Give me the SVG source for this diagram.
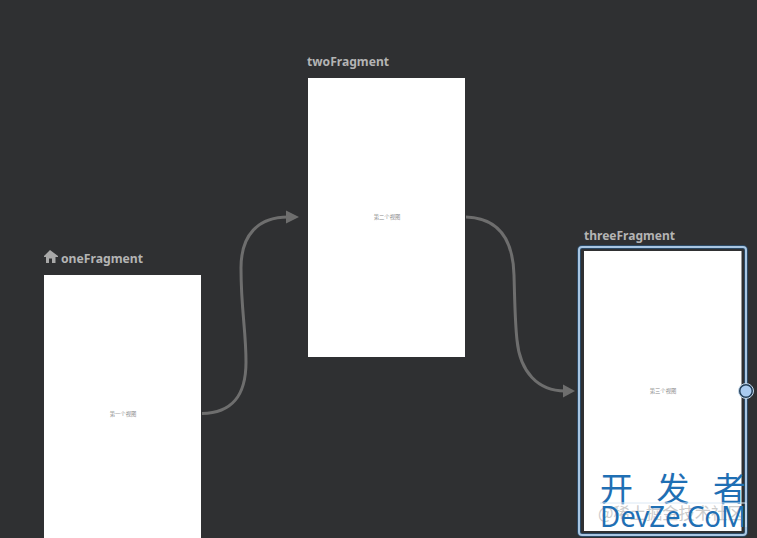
<svg xmlns="http://www.w3.org/2000/svg" width="757" height="538" viewBox="0 0 757 538">
<style>
.title{font-family:"Noto Sans","Open Sans",sans-serif;font-size:12.500px;font-weight:700;fill:#b4b4b4}
.screen{fill:#fff}
.cap{font-family:"Noto Sans CJK SC",sans-serif;font-size:5.300px;fill:#8a8a8a;text-anchor:middle}
.wire{fill:none;stroke:#6e6e6e;stroke-width:3}
.head{fill:#6e6e6e}
.wm{font-family:"Noto Sans CJK SC",sans-serif;fill:#1f6fb4}
</style>
<rect width="757" height="538" fill="#2f3032"/>
<g id="connectors">
<path class="wire" d="M202 413.500C232 413 246 396 246 362C246 330 241 310 241 268C241 235 258 217 288 217"/>
<polygon class="head" points="299,217 286,210.500 286,223.500"/>
<path class="wire" d="M466 217C498 218 513 238 514 275C515 310 515 322 517 340C520 372 538 391 565 391"/>
<polygon class="head" points="575,391 563,384.500 563,397.500"/>
</g>
<g id="oneFragment">
<path d="M50 250L44 256V257H46V263H49V258.500H52V263H55.500V257H58V256Z" fill="#a8a8a8"/>
<text class="title" x="61" y="262.500" textLength="82" lengthAdjust="spacingAndGlyphs">oneFragment</text>
<rect class="screen" x="44" y="275" width="157" height="263"/>
<text class="cap" x="123" y="416">第一个视图</text>
</g>
<g id="twoFragment">
<text class="title" x="307" y="65.500" textLength="82" lengthAdjust="spacingAndGlyphs">twoFragment</text>
<rect class="screen" x="308" y="78" width="157" height="279"/>
<text class="cap" x="387" y="219">第二个视图</text>
</g>
<g id="threeFragment">
<text class="title" x="584" y="240" textLength="91" lengthAdjust="spacingAndGlyphs">threeFragment</text>
<rect x="579" y="247" width="167" height="288" rx="3" fill="none" stroke="#2c4a66" stroke-width="4"/>
<rect x="579" y="247" width="167" height="288" rx="3" fill="none" stroke="#a9c6e2" stroke-width="2"/>
<rect class="screen" x="584" y="251" width="157.500" height="280"/>
<text class="cap" x="663" y="393">第三个视图</text>
<circle cx="746" cy="391" r="6.500" fill="#a9cbf0" stroke="#24405a" stroke-width="2"/>
<circle cx="746" cy="391" r="7.500" fill="none" stroke="#c4d8ea" stroke-width="1"/>
</g>
<g id="watermark">
<text x="598" y="519" font-family="Noto Sans CJK SC,sans-serif" font-size="16.300px" fill="#cccccc">@稀土掘金技术社区</text>
<text class="wm" x="600" y="501" font-size="33px" textLength="146" lengthAdjust="spacing">开 发 者</text>
<path d="M600 503H746V527" fill="none" stroke="#dbe8f4" stroke-width="1"/>
<text x="600" y="527" font-family="Noto Sans,sans-serif" font-size="29px" fill="#1f6fb4" textLength="146" lengthAdjust="spacingAndGlyphs">DevZe.CoM</text>
</g>
</svg>
